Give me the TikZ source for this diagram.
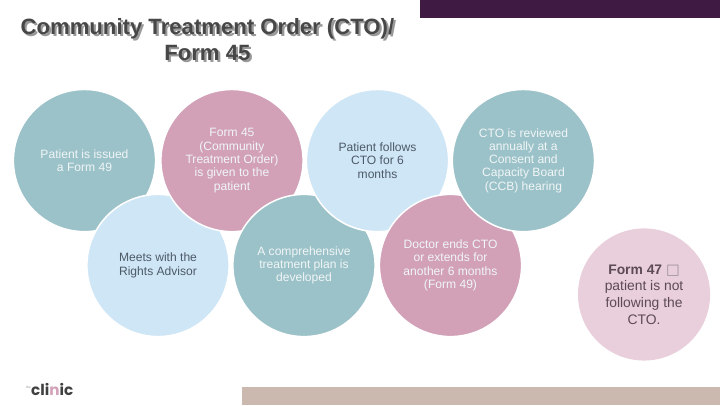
\documentclass[tikz,border=0pt]{standalone}
\usepackage{fontspec}
\setmainfont{Liberation Sans}
\newfontfamily\symfont{DejaVu Sans}
\newfontfamily\logofont{Poppins}
\usepackage{tikz}

\definecolor{barpurple}{HTML}{3F1A42}
\definecolor{bartan}{HTML}{CBB8AF}
\definecolor{stepteal}{HTML}{9BC2C8}
\definecolor{steppink}{HTML}{D2A1B8}
\definecolor{stepblue}{HTML}{CFE6F6}
\definecolor{notepink}{HTML}{E9CFDB}
\definecolor{textdark}{HTML}{4D5A68}
\definecolor{textlight}{HTML}{F0F5F6}
\definecolor{textnote}{HTML}{5C4A55}

\begin{document}
\begin{tikzpicture}[
    every node/.style={font=\fontsize{9.55}{10.5}\selectfont, align=center},
    stepcircle/.style={circle, draw=white, line width=1.2pt, inner sep=0pt, outer sep=0pt, minimum size=3.95cm},
    tealstep/.style={stepcircle, fill=stepteal, text=textlight},
    pinkstep/.style={stepcircle, fill=steppink, text=textlight},
    bluestep/.style={stepcircle, fill=stepblue, text=textdark},
    titletext/.style={font=\fontsize{17.5}{20.6}\selectfont\bfseries}
]

\useasboundingbox (0,0) rectangle (20,11.25);

% --- BARS ---
\fill[barpurple] (11.67,10.75) rectangle (20,11.25);
\fill[bartan] (6.72,0) rectangle (20,0.5);

% --- TITLE ---
\node[titletext, text=black!40] (titleshadow) at (5.82,10.10) {Community Treatment Order (CTO)/\\Form 45};
\node[titletext, text=black!72] (title) at (5.76,10.16) {Community Treatment Order (CTO)/\\Form 45};

% --- STEPS: each one lies over the one before ---
\node[tealstep] (issued) at (2.347,6.79) {Patient is issued\\a Form 49};
\node[bluestep] (advisor) at (4.389,3.875) {Meets with the\\Rights Advisor};
\node[pinkstep] (given) at (6.444,6.79) {Form 45\\(Community\\Treatment Order)\\is given to the\\patient};
\node[tealstep] (plan) at (8.444,3.875) {A comprehensive\\treatment plan is\\developed};
\node[bluestep] (follows) at (10.486,6.79) {Patient follows\\CTO for 6\\months};
\node[pinkstep] (ends) at (12.514,3.875) {Doctor ends CTO\\or extends for\\another 6 months\\(Form 49)};
\node[tealstep] (review) at (14.54,6.79) {CTO is reviewed\\annually at a\\Consent and\\Capacity Board\\(CCB) hearing};

% --- SIDE NOTE ---
\node[circle, fill=notepink, text=textnote, inner sep=0pt, minimum size=3.67cm,
    font=\fontsize{10.95}{13.2}\selectfont] (noncompliance) at (17.89,3.07)
    {\textbf{Form 47} {\symfont\fontsize{11.5}{10}\selectfont\color{textnote!60}□}\\patient is not\\following the\\CTO.};

% --- LOGO ---
\node[inner sep=0pt, text=black!75, font=\logofont\bfseries\fontsize{12}{13}\selectfont] (logo) at (1.45,0.44)
    {cli\textcolor{steppink}{n}ic};
\node[inner sep=0pt, text=black!45, font=\fontsize{2.5}{3}\selectfont, anchor=south east] (logothe) at (logo.west) {the};

\end{tikzpicture}
\end{document}
